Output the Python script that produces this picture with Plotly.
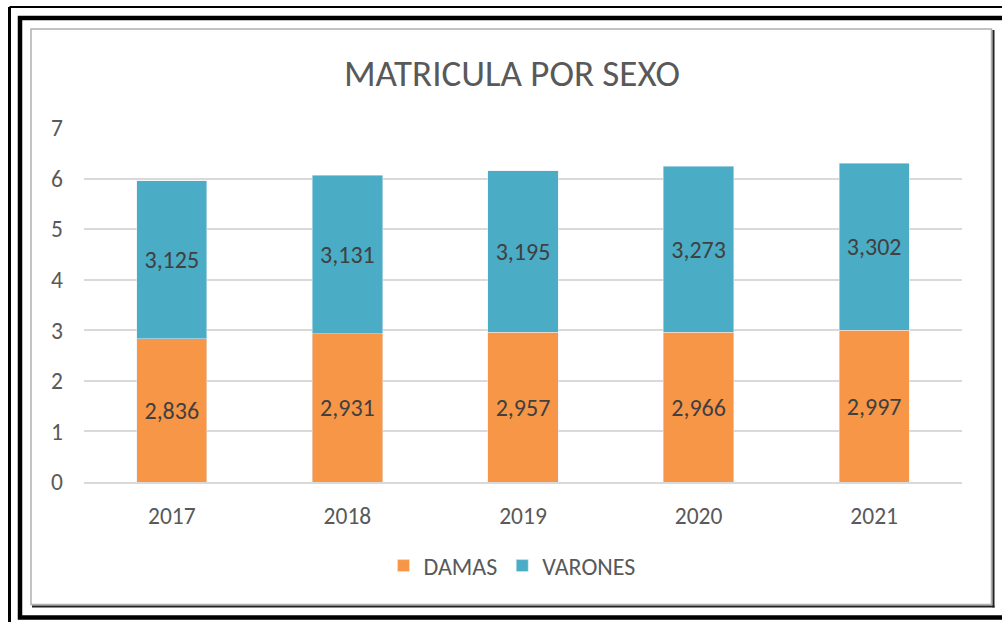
import plotly.graph_objects as go

years = ["2017", "2018", "2019", "2020", "2021"]
damas = [2.836, 2.931, 2.957, 2.966, 2.997]
varones = [3.125, 3.131, 3.195, 3.273, 3.302]
damas_labels = ["2,836", "2,931", "2,957", "2,966", "2,997"]
varones_labels = ["3,125", "3,131", "3,195", "3,273", "3,302"]
y_ticks = [0, 1, 2, 3, 4, 5, 6, 7]

W, H = 1002, 622
L, R, T, B = 84, 40, 128, 140
PW, PH = W - L - R, H - T - B


def px(x):
    return (x - L) / PW


def py(y):
    return (H - B - y) / PH


FONT = "Carlito, Calibri, 'Open Sans', sans-serif"
TXT = "#595959"

fig = go.Figure()
fig.add_trace(go.Bar(
    x=years, y=damas, name="DAMAS", marker_color="#F79646",
    text=damas_labels, textposition="inside", insidetextanchor="middle",
    textangle=0, textfont=dict(size=24, color="#404040", family=FONT),
    hoverinfo="skip",
))
fig.add_trace(go.Bar(
    x=years, y=varones, name="VARONES", marker_color="#4BACC6",
    text=varones_labels, textposition="inside", insidetextanchor="middle",
    textangle=0, textfont=dict(size=24, color="#404040", family=FONT),
    hoverinfo="skip",
))

shapes = []
# outer thin line (left and top)
shapes.append(dict(type="line", xref="paper", yref="paper", x0=px(9.5), x1=px(9.5), y0=py(7), y1=py(630),
                   line=dict(color="black", width=3)))
shapes.append(dict(type="line", xref="paper", yref="paper", x0=px(9.5), x1=px(1010), y0=py(7), y1=py(7),
                   line=dict(color="black", width=2)))
# thick frame
shapes.append(dict(type="rect", xref="paper", yref="paper", x0=px(20), x1=px(1012), y0=py(18), y1=py(617.5),
                   line=dict(color="black", width=4.5)))
# inner chart border (gray) with dark shadow right/bottom
shapes.append(dict(type="rect", xref="paper", yref="paper", x0=px(31), x1=px(991.5), y0=py(29), y1=py(604.5),
                   line=dict(color="#B0B0B0", width=1.5)))
shapes.append(dict(type="line", xref="paper", yref="paper", x0=px(993.5), x1=px(993.5), y0=py(30), y1=py(607.5),
                   line=dict(color="#222222", width=2)))
shapes.append(dict(type="line", xref="paper", yref="paper", x0=px(32), x1=px(994.5), y0=py(606.5), y1=py(606.5),
                   line=dict(color="#222222", width=2)))

fig.update_layout(
    width=W, height=H,
    margin=dict(l=L, r=R, t=T, b=B),
    paper_bgcolor="white", plot_bgcolor="white",
    barmode="stack", bargap=0.6,
    font=dict(family=FONT, color=TXT),
    title=dict(text="MATRICULA POR SEXO", x=0.511, xanchor="center", y=1 - 73 / H, yanchor="middle",
               font=dict(size=37, color=TXT, family=FONT)),
    showlegend=True,
    legend=dict(orientation="h", x=px(512), xanchor="center", y=py(566), yanchor="middle",
                font=dict(size=24, color=TXT, family=FONT), itemwidth=30, traceorder="normal",
                bgcolor="rgba(0,0,0,0)"),
    xaxis=dict(showgrid=False, showline=True, linecolor="#D9D9D9", linewidth=1.5,
               tickfont=dict(size=23.5, color=TXT), ticks="", ticklabelstandoff=12),
    yaxis=dict(range=[0, 7], tickvals=y_ticks, showgrid=True, gridcolor="#D9D9D9", gridwidth=1.5,
               zeroline=False, showline=False, tickfont=dict(size=23.5, color=TXT), ticks="",
               ticklabelstandoff=20),
    shapes=shapes,
)

fig.write_html("out.html", config={"displayModeBar": False},
               post_script="document.body.style.margin='0';document.body.style.overflow='hidden';")
